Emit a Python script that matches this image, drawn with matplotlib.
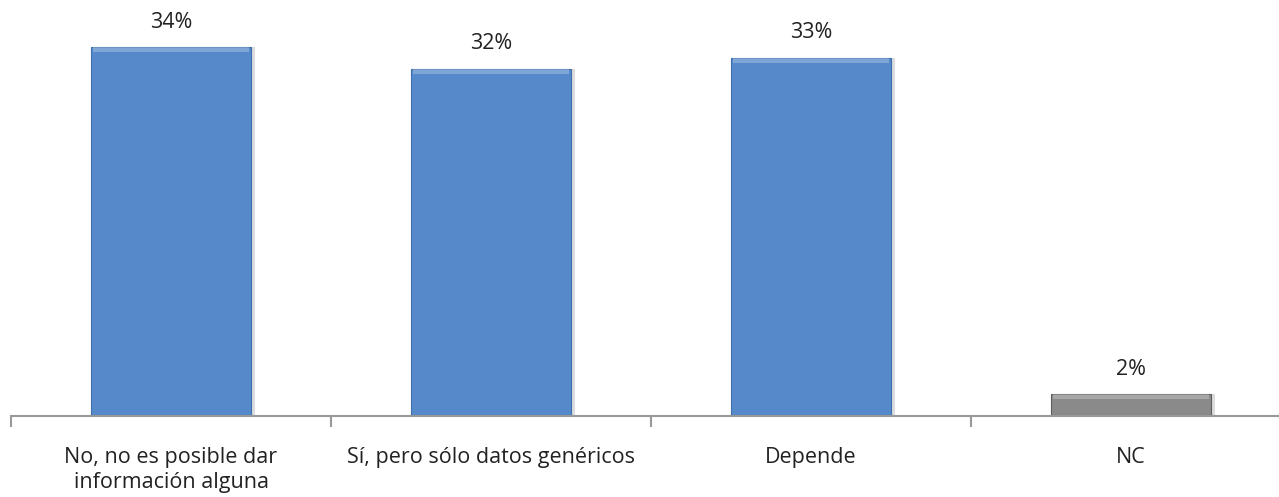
import numpy as np
import matplotlib.pyplot as plt

# datos
categorias = ["No, no es posible dar\ninformación alguna", "Sí, pero sólo datos genéricos", "Depende", "NC"]
valores = [34, 32, 33, 2]
colores = ["#5589c9", "#5589c9", "#5589c9", "#8a8a8a"]
bordes = ["#3f6fae", "#3f6fae", "#3f6fae", "#5e5e5e"]

plt.rcParams['font.family'] = ['Open Sans', 'DejaVu Sans']

fig = plt.figure(figsize=(12.79, 4.97), dpi=100)
# ejes: izquierda 11 px, base en y=416 px
ax = fig.add_axes([11 / 1279, 81 / 497, 1280 / 1279, 416 / 497])

x = np.arange(len(categorias))
# sombra
ax.bar(x + 0.012, valores, width=0.5, color="#bbbbbb", alpha=0.5, zorder=1)
barras = ax.bar(x, valores, width=0.5, color=colores, edgecolor=bordes, linewidth=0.8, zorder=2)

# franja clara arriba (bisel)
for xi, v, c in zip(x, valores, colores):
    ax.bar(xi, 0.45, bottom=v - 0.45, width=0.49, color="white", alpha=0.25, zorder=3, linewidth=0)

for xi, v in zip(x, valores):
    ax.text(xi, v + 2.3, f"{v}%", ha="center", va="center", fontsize=15.5, color="#222222")

ax.set_xlim(-0.5, 3.5)
ax.set_ylim(0, 416 / 10.85)

ax.set_xticks(np.arange(-0.5, 4.0, 1.0))
ax.set_xticklabels([])
ax.set_xticks(x, minor=True)
ax.set_xticklabels(categorias, minor=True, fontsize=15.5, color="#222222", linespacing=1.25)
ax.tick_params(axis="x", which="major", length=8, color="#999999", width=1.5)
ax.tick_params(axis="x", which="minor", length=0, pad=22)

ax.set_yticks([])
for s in ["top", "right", "left"]:
    ax.spines[s].set_visible(False)
ax.spines["bottom"].set_color("#999999")
ax.spines["bottom"].set_linewidth(1.5)

fig.savefig("out.png", dpi=100)
